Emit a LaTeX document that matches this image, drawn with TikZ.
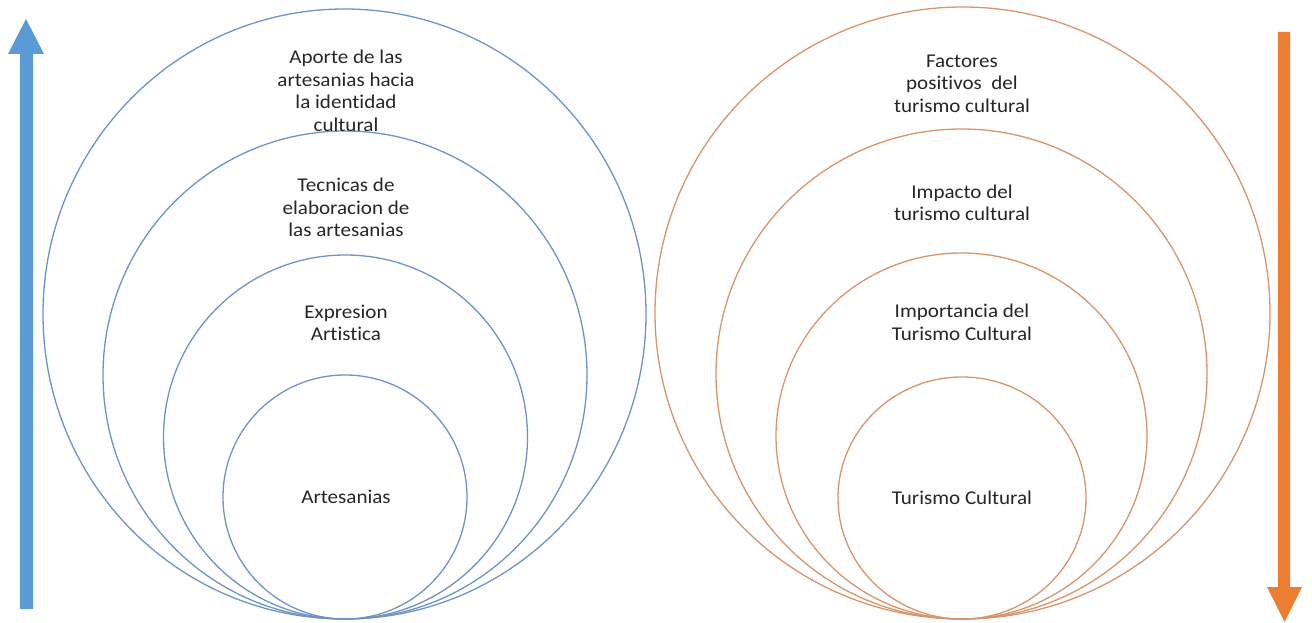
\documentclass[tikz,border=0pt]{standalone}
\usepackage{fontspec}
\setmainfont{Carlito}[Ligatures=NoCommon, FakeStretch=1.08]
\definecolor{bline}{HTML}{6F93C4}
\definecolor{oline}{HTML}{D8946A}
\definecolor{barrow}{HTML}{5B9BD5}
\definecolor{oarrow}{HTML}{ED7D31}
\tikzset{
  bring/.style={draw=bline, line width=1.3pt},
  oring/.style={draw=oline, line width=1.3pt},
  lbl/.style={align=center, font=\fontsize{19.5}{22.5}\selectfont, text=black!85, inner sep=0pt},
}
\begin{document}
\begin{tikzpicture}[x=1pt,y=-1pt]
\useasboundingbox (0,0) rectangle (1312,623);
% left circles
\draw[bring] (344.5,314) ellipse [x radius=301.5, y radius=305];
\draw[bring] (345,375) ellipse [x radius=242, y radius=244];
\draw[bring] (345.5,437) circle (182);
\draw[bring] (345,497) circle (122);
% right circles
\draw[oring] (962.5,313) ellipse [x radius=307.5, y radius=306];
\draw[oring] (961.5,374) ellipse [x radius=245.5, y radius=245];
\draw[oring] (961.5,436) ellipse [x radius=185.5, y radius=183];
\draw[oring] (962,498) ellipse [x radius=124, y radius=121];
% arrows
\fill[barrow] (20,609) -- (20,54) -- (8,54) -- (26,19) -- (44,54) -- (33,54) -- (33,609) -- cycle;
\fill[oarrow] (1278,32) -- (1278,587) -- (1267,587) -- (1284.5,622) -- (1302,587) -- (1290,587) -- (1290,32) -- cycle;
% labels
\node[lbl] (l1) at (346,91) {Aporte de las\\artesanias hacia\\la identidad\\cultural};
\node[lbl] (l2) at (346,207.5) {Tecnicas de\\elaboracion de\\las artesanias};
\node[lbl] (l3) at (346,323) {Expresion\\Artistica};
\node[lbl] (l4) at (346,497) {Artesanias};
\node[lbl] (r1) at (962,83.5) {Factores\\positivos\ \ del\\turismo cultural};
\node[lbl] (r2) at (962,203) {Impacto del\\turismo cultural};
\node[lbl] (r3) at (962,322.5) {Importancia del\\Turismo Cultural};
\node[lbl] (r4) at (962,498) {Turismo Cultural};
\end{tikzpicture}
\end{document}
